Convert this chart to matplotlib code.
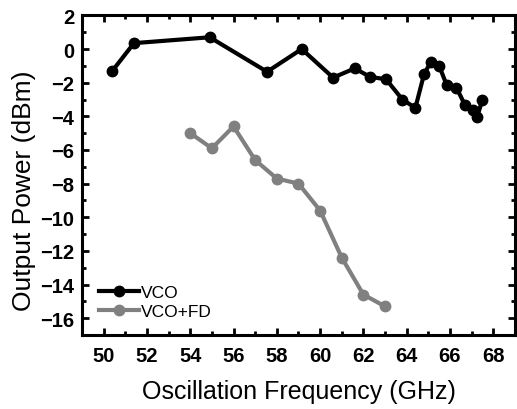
import matplotlib
matplotlib.use("Agg")
import matplotlib.pyplot as plt
from matplotlib.ticker import MultipleLocator

plt.rcParams["font.family"] = ["Liberation Sans", "DejaVu Sans"]

# VCO alone
vco_freq = [50.4, 51.4, 54.9, 57.55, 59.15, 60.6, 61.6, 62.3, 63.05, 63.8,
            64.4, 64.8, 65.1, 65.5, 65.85, 66.3, 66.7, 67.05, 67.25, 67.5]
vco_pow = [-1.3, 0.35, 0.7, -1.35, 0.0, -1.7, -1.15, -1.65, -1.8, -3.0,
           -3.5, -1.5, -0.8, -1.0, -2.15, -2.3, -3.35, -3.65, -4.05, -3.0]

# VCO + frequency divider
fd_freq = [54, 55, 56, 57, 58, 59, 60, 61, 62, 63]
fd_pow = [-5.0, -5.9, -4.6, -6.6, -7.7, -8.0, -9.6, -12.4, -14.6, -15.3]

xticks = [50, 52, 54, 56, 58, 60, 62, 64, 66, 68]
yticks = [2, 0, -2, -4, -6, -8, -10, -12, -14, -16]

fig = plt.figure(figsize=(5.17, 4.10), dpi=100)
ax = fig.add_axes([0.1586, 0.1805, 0.8374, 0.7795])

ax.plot(vco_freq, vco_pow, color="black", lw=3, marker="o", ms=7.5, label="VCO")
ax.plot(fd_freq, fd_pow, color="#808080", lw=3, marker="o", ms=7.5, label="VCO+FD")

ax.set_xlim(49, 69)
ax.set_ylim(-17, 2)
ax.set_xticks(xticks)
ax.set_yticks(yticks)
ax.xaxis.set_minor_locator(MultipleLocator(1))
ax.yaxis.set_minor_locator(MultipleLocator(1))
ax.tick_params(which="both", direction="in", top=True, right=True, width=2)
ax.tick_params(which="major", length=5, labelsize=14.5)
ax.tick_params(axis="x", which="major", pad=8)
ax.tick_params(axis="y", which="major", pad=5.5)
ax.tick_params(which="minor", length=3)
for lab in ax.get_xticklabels() + ax.get_yticklabels():
    lab.set_fontweight("bold")
for sp in ax.spines.values():
    sp.set_linewidth(2.2)

ax.set_xlabel("Oscillation Frequency (GHz)", fontsize=18, labelpad=10)
ax.set_ylabel("Output Power (dBm)", fontsize=19)
ax.yaxis.set_label_coords(-0.106, 0.454)

ax.legend(loc="lower left", bbox_to_anchor=(0.04, 0.05), frameon=False,
          fontsize=12.5, handlelength=2.3, handletextpad=0.1,
          labelspacing=0.2, borderpad=0, borderaxespad=0)

fig.savefig("out.png", dpi=100)
